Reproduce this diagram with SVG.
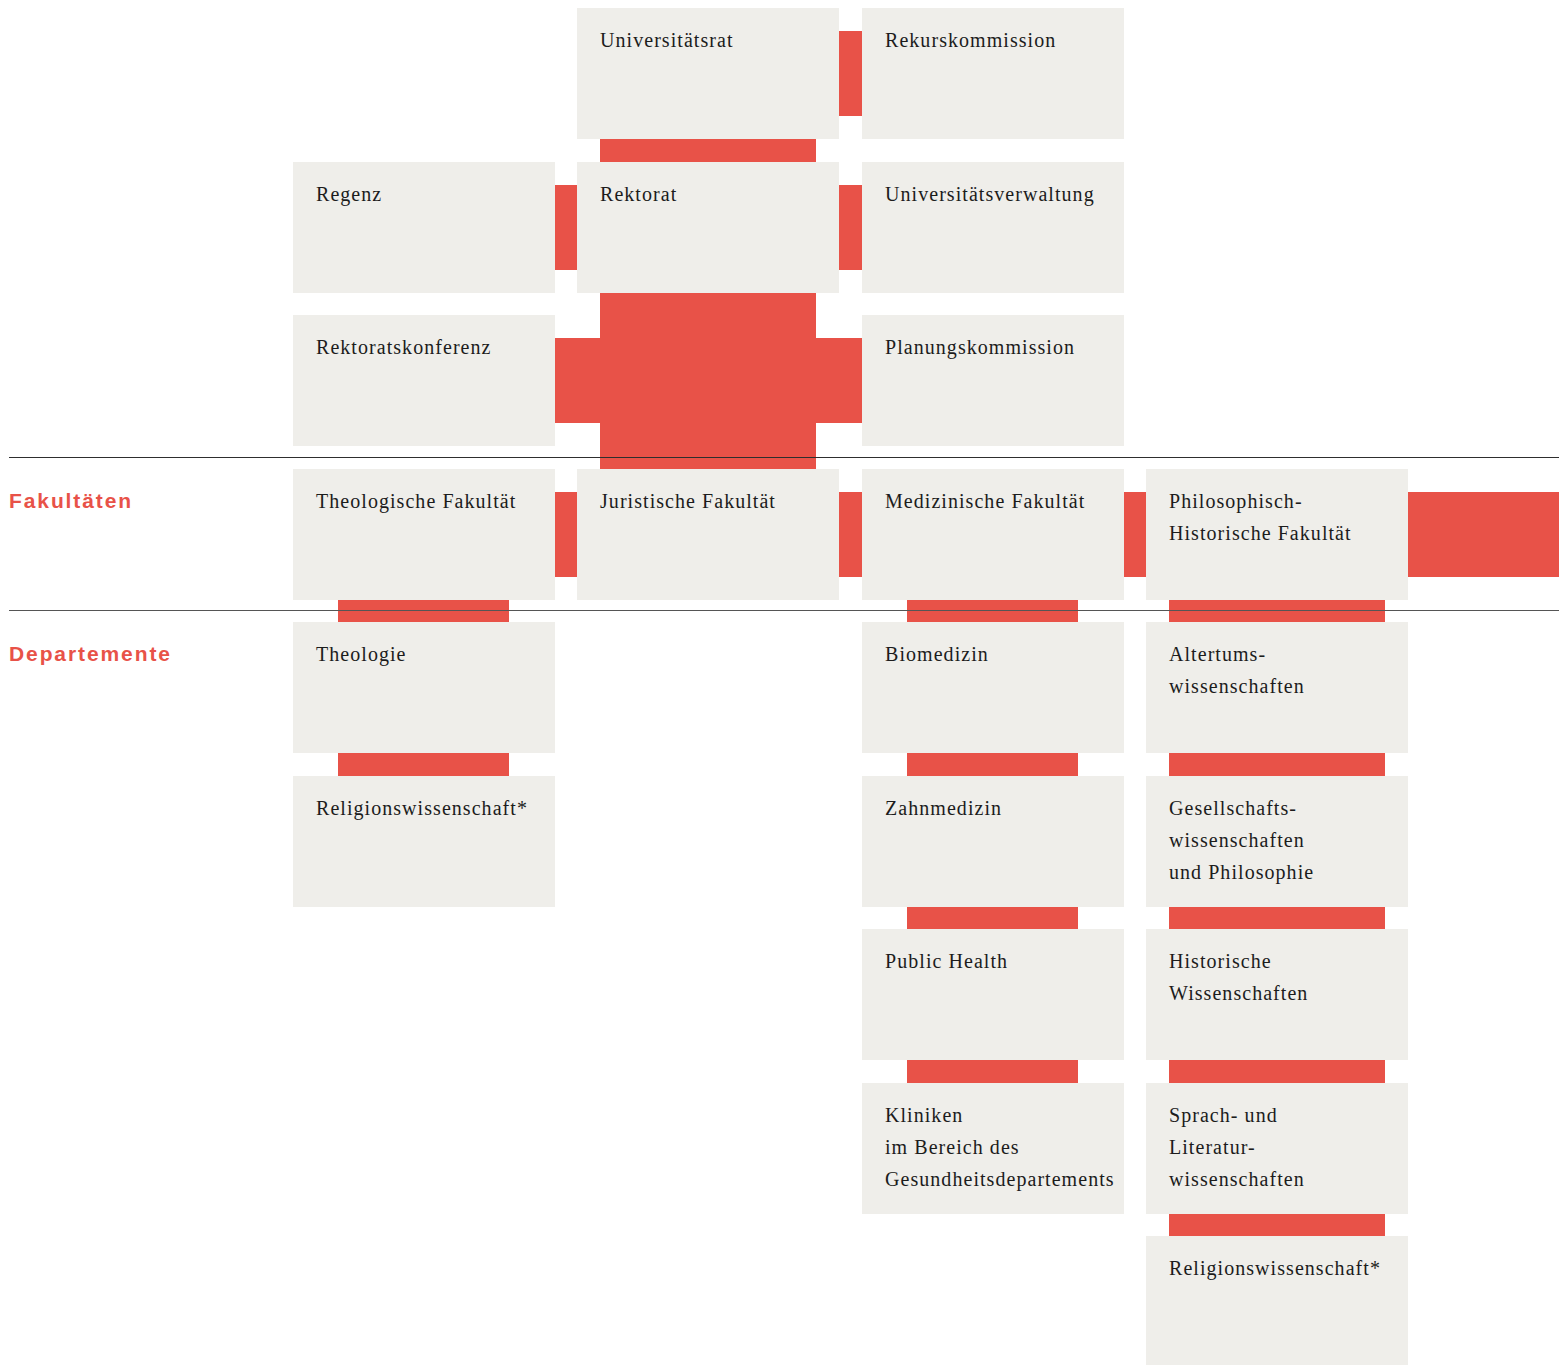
<svg xmlns="http://www.w3.org/2000/svg" width="1559" height="1365" viewBox="0 0 1559 1365">
  <style>
    .box { fill: #efeeea; }
    .con { fill: #e85248; }
    .t { font-family: "Liberation Serif", "Times New Roman", serif; font-size: 20px; letter-spacing: 1.05px; fill: #1c1c1c; }
    .lbl { font-family: "Liberation Sans", Arial, sans-serif; font-size: 21px; font-weight: bold; letter-spacing: 1.9px; fill: #e85248; }
  </style>
  <rect width="1559" height="1365" fill="#ffffff"/>

  <g id="connectors">
    <!-- row 0 -->
    <rect class="con" x="839" y="31" width="23" height="85"/>
    <rect class="con" x="600" y="139" width="216" height="23"/>
    <!-- row 1 -->
    <rect class="con" x="555" y="185" width="22" height="85"/>
    <rect class="con" x="839" y="185" width="23" height="85"/>
    <!-- row 2 central cross -->
    <rect class="con" x="600" y="293" width="216" height="176"/>
    <rect class="con" x="555" y="338" width="307" height="85"/>
    <!-- row 3 faculties -->
    <rect class="con" x="555" y="492" width="22" height="85"/>
    <rect class="con" x="839" y="492" width="23" height="85"/>
    <rect class="con" x="1124" y="492" width="22" height="85"/>
    <rect class="con" x="1408" y="492" width="151" height="85"/>
    <!-- vertical links col 1 -->
    <rect class="con" x="338" y="600" width="171" height="22"/>
    <rect class="con" x="338" y="753" width="171" height="23"/>
    <!-- vertical links col 3 -->
    <rect class="con" x="907" y="600" width="171" height="22"/>
    <rect class="con" x="907" y="753" width="171" height="23"/>
    <rect class="con" x="907" y="907" width="171" height="22"/>
    <rect class="con" x="907" y="1060" width="171" height="23"/>
    <!-- vertical links col 4 -->
    <rect class="con" x="1169" y="600" width="216" height="22"/>
    <rect class="con" x="1169" y="753" width="216" height="23"/>
    <rect class="con" x="1169" y="907" width="216" height="22"/>
    <rect class="con" x="1169" y="1060" width="216" height="23"/>
    <rect class="con" x="1169" y="1214" width="216" height="22"/>
  </g>

  <g id="n-universitaetsrat"><rect class="box" x="577" y="8" width="262" height="131"/><text class="t" x="600" y="47">Universitätsrat</text></g>
  <g id="n-rekurskommission"><rect class="box" x="862" y="8" width="262" height="131"/><text class="t" x="885" y="47">Rekurskommission</text></g>

  <g id="n-regenz"><rect class="box" x="293" y="162" width="262" height="131"/><text class="t" x="316" y="201">Regenz</text></g>
  <g id="n-rektorat"><rect class="box" x="577" y="162" width="262" height="131"/><text class="t" x="600" y="201">Rektorat</text></g>
  <g id="n-universitaetsverwaltung"><rect class="box" x="862" y="162" width="262" height="131"/><text class="t" x="885" y="201">Universitätsverwaltung</text></g>

  <g id="n-rektoratskonferenz"><rect class="box" x="293" y="315" width="262" height="131"/><text class="t" x="316" y="354">Rektoratskonferenz</text></g>
  <g id="n-planungskommission"><rect class="box" x="862" y="315" width="262" height="131"/><text class="t" x="885" y="354">Planungskommission</text></g>

  <g id="n-theologische-fakultaet"><rect class="box" x="293" y="469" width="262" height="131"/><text class="t" x="316" y="508">Theologische Fakultät</text></g>
  <g id="n-juristische-fakultaet"><rect class="box" x="577" y="469" width="262" height="131"/><text class="t" x="600" y="508">Juristische Fakultät</text></g>
  <g id="n-medizinische-fakultaet"><rect class="box" x="862" y="469" width="262" height="131"/><text class="t" x="885" y="508">Medizinische Fakultät</text></g>
  <g id="n-philhist-fakultaet"><rect class="box" x="1146" y="469" width="262" height="131"/><text class="t" x="1169" y="508">Philosophisch-</text><text class="t" x="1169" y="540">Historische Fakultät</text></g>

  <g id="n-theologie"><rect class="box" x="293" y="622" width="262" height="131"/><text class="t" x="316" y="661">Theologie</text></g>
  <g id="n-biomedizin"><rect class="box" x="862" y="622" width="262" height="131"/><text class="t" x="885" y="661">Biomedizin</text></g>
  <g id="n-altertumswissenschaften"><rect class="box" x="1146" y="622" width="262" height="131"/><text class="t" x="1169" y="661">Altertums-</text><text class="t" x="1169" y="693">wissenschaften</text></g>

  <g id="n-religionswissenschaft-1"><rect class="box" x="293" y="776" width="262" height="131"/><text class="t" x="316" y="815">Religionswissenschaft*</text></g>
  <g id="n-zahnmedizin"><rect class="box" x="862" y="776" width="262" height="131"/><text class="t" x="885" y="815">Zahnmedizin</text></g>
  <g id="n-gesellschaftswissenschaften"><rect class="box" x="1146" y="776" width="262" height="131"/><text class="t" x="1169" y="815">Gesellschafts-</text><text class="t" x="1169" y="847">wissenschaften</text><text class="t" x="1169" y="879">und Philosophie</text></g>

  <g id="n-public-health"><rect class="box" x="862" y="929" width="262" height="131"/><text class="t" x="885" y="968">Public Health</text></g>
  <g id="n-historische-wissenschaften"><rect class="box" x="1146" y="929" width="262" height="131"/><text class="t" x="1169" y="968">Historische</text><text class="t" x="1169" y="1000">Wissenschaften</text></g>

  <g id="n-kliniken"><rect class="box" x="862" y="1083" width="262" height="131"/><text class="t" x="885" y="1122">Kliniken</text><text class="t" x="885" y="1154">im Bereich des</text><text class="t" x="885" y="1186">Gesundheitsdepartements</text></g>
  <g id="n-sprachwissenschaften"><rect class="box" x="1146" y="1083" width="262" height="131"/><text class="t" x="1169" y="1122">Sprach- und</text><text class="t" x="1169" y="1154">Literatur-</text><text class="t" x="1169" y="1186">wissenschaften</text></g>

  <g id="n-religionswissenschaft-2"><rect class="box" x="1146" y="1236" width="262" height="131"/><text class="t" x="1169" y="1275">Religionswissenschaft*</text></g>

  <g id="separators">
    <line x1="9" y1="457.5" x2="1559" y2="457.5" stroke="#2e2e2e" stroke-width="1.2"/>
    <line x1="9" y1="610.5" x2="1559" y2="610.5" stroke="#555555" stroke-width="1.2"/>
  </g>

  <g id="labels">
    <text class="lbl" x="9" y="508">Fakultäten</text>
    <text class="lbl" x="9" y="661">Departemente</text>
  </g>
</svg>
